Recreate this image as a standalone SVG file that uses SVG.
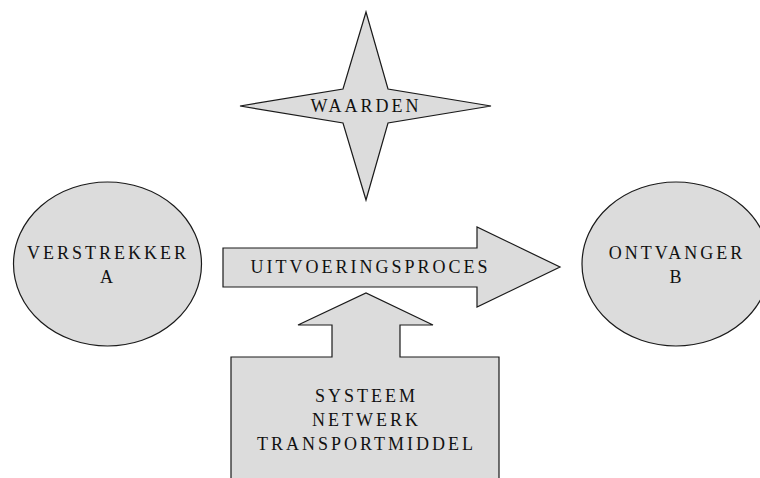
<svg xmlns="http://www.w3.org/2000/svg" width="760" height="478" viewBox="0 0 760 478">
<style>
.shape{fill:#dcdcdc;stroke:#1a1a1a;stroke-width:1.2;stroke-linejoin:miter}
.lbl{font-family:"Liberation Serif","Times New Roman",serif;font-size:18px;letter-spacing:3px;fill:#111;text-anchor:middle}
</style>
<rect width="760" height="478" fill="#ffffff"/>
<g id="waarden">
<polygon class="shape" points="366,12 388,89 491,106 388,123 366,200 343,123 240,106 343,89"/>
<text class="lbl" x="366" y="112">WAARDEN</text>
</g>
<g id="verstrekker">
<ellipse class="shape" cx="107.5" cy="264" rx="94" ry="82"/>
<text class="lbl" x="108" y="259">VERSTREKKER</text>
<text class="lbl" x="108" y="283">A</text>
</g>
<g id="ontvanger">
<ellipse class="shape" cx="676" cy="264" rx="94" ry="82"/>
<text class="lbl" x="677" y="259">ONTVANGER</text>
<text class="lbl" x="677" y="283">B</text>
</g>
<g id="connectors">
<g id="uitvoeringsproces">
<polygon class="shape" points="223,248 477,248 477,227 560,267 477,307 477,287 223,287"/>
<text class="lbl" x="370.5" y="273">UITVOERINGSPROCES</text>
</g>
</g>
<g id="systeem">
<polygon class="shape" points="231,482 231,357 332,357 332,325 298,325 366,293 433,325 400,325 400,357 499,357 499,482"/>
<text class="lbl" x="366.5" y="402">SYSTEEM</text>
<text class="lbl" x="366.5" y="426">NETWERK</text>
<text class="lbl" x="366.5" y="450">TRANSPORTMIDDEL</text>
</g>
</svg>
